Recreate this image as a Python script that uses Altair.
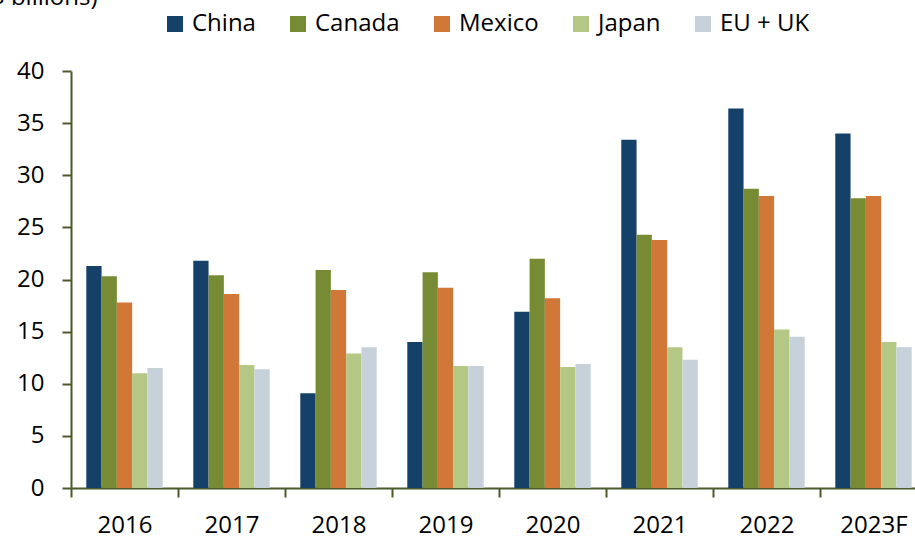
import altair as alt
import pandas as pd

years = ["2016", "2017", "2018", "2019", "2020", "2021", "2022", "2023F"]
series = ["China", "Canada", "Mexico", "Japan", "EU + UK"]
colors = ["#154169", "#778B35", "#D17839", "#B5C785", "#C7D1DA"]

china = [21.3, 21.8, 9.1, 14.0, 16.9, 33.4, 36.4, 34.0]
canada = [20.3, 20.4, 20.9, 20.7, 22.0, 24.3, 28.7, 27.8]
mexico = [17.8, 18.6, 19.0, 19.2, 18.2, 23.8, 28.0, 28.0]
japan = [11.0, 11.8, 12.9, 11.7, 11.6, 13.5, 15.2, 14.0]
euuk = [11.5, 11.4, 13.5, 11.7, 11.9, 12.3, 14.5, 13.5]

values = [china, canada, mexico, japan, euuk]
rows = []
for s, vals in zip(series, values):
    for y, v in zip(years, vals):
        rows.append({"year": y, "series": s, "value": v})
df = pd.DataFrame(rows)

FONT = "Open Sans"
AX = "#4B5A28"

chart = alt.Chart(df).mark_bar().encode(
    x=alt.X("year:N", sort=years,
            scale=alt.Scale(range=[0, 856], paddingInner=0, paddingOuter=0),
            axis=alt.Axis(title=None, labelAngle=0, tickBand="extent",
                          tickSize=9, tickWidth=2, domainWidth=2,
                          domainColor=AX, tickColor=AX, labelPadding=16,
                          labelFontSize=24, labelFont=FONT, labelColor="#000000")),
    xOffset=alt.XOffset("series:N", sort=series,
                        scale=alt.Scale(paddingInner=0, paddingOuter=1)),
    y=alt.Y("value:Q", scale=alt.Scale(domain=[0, 40], nice=False),
            axis=alt.Axis(title="(US$ billions)", values=[0, 5, 10, 15, 20, 25, 30, 35, 40],
                          grid=False, tickSize=9, tickWidth=2, domainWidth=2,
                          domainColor=AX, tickColor=AX, labelPadding=18,
                          labelFontSize=24, labelFont=FONT, labelColor="#000000",
                          titleAngle=0, titleX=26, titleY=-67, titleAlign="right",
                          titleBaseline="alphabetic", titleFontSize=24,
                          titleFontWeight="normal", titleFont=FONT, titleColor="#000000")),
    color=alt.Color("series:N", sort=series,
                    scale=alt.Scale(domain=series, range=colors),
                    legend=alt.Legend(title=None, orient="none", direction="horizontal",
                                      legendX=92, legendY=-59, padding=0,
                                      symbolType="square", symbolSize=256,
                                      symbolStrokeWidth=0, labelOffset=5,
                                      columnPadding=30, labelFontSize=24,
                                      labelFont=FONT, labelColor="#000000")),
).properties(
    width=844, height=417,
    autosize=alt.AutoSizeParams(type="none"),
    padding={"left": 71, "top": 71, "right": 0, "bottom": 49},
).configure_view(stroke=None)

chart.save("out.html", embed_options={"renderer": "svg", "actions": False})
